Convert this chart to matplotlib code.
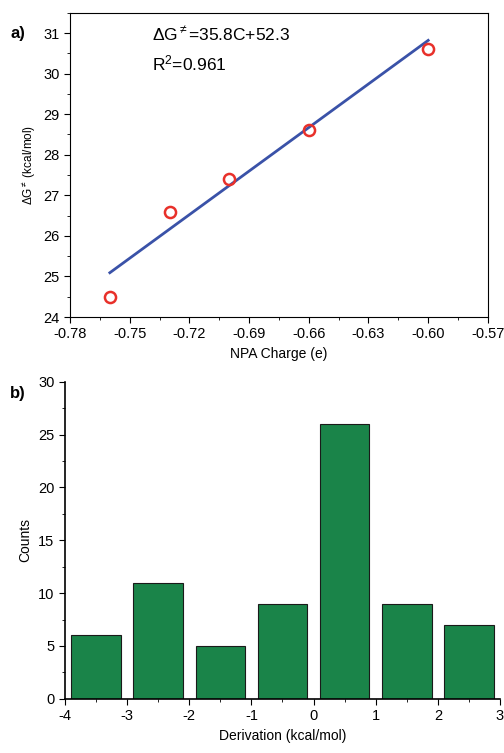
import matplotlib
matplotlib.use('Agg')
import matplotlib.pyplot as plt
from matplotlib.ticker import MultipleLocator, AutoMinorLocator

plt.rcParams['font.family'] = ['Liberation Sans', 'DejaVu Sans']
plt.rcParams['mathtext.fontset'] = 'custom'
plt.rcParams['mathtext.rm'] = 'Liberation Sans'
plt.rcParams['mathtext.it'] = 'Liberation Sans'
plt.rcParams['axes.unicode_minus'] = False

# panel a data
charge = [-0.76, -0.73, -0.70, -0.66, -0.60]
dg = [24.5, 26.6, 27.4, 28.6, 30.6]
slope = 35.8
intercept = 52.3
fit_x = [-0.76, -0.60]

# panel b data
bin_centers = [-3.5, -2.5, -1.5, -0.5, 0.5, 1.5, 2.5]
counts = [6, 11, 5, 9, 26, 9, 7]

fig = plt.figure(figsize=(5.04, 7.53), dpi=100)

ax1 = fig.add_axes([0.139, 0.579, 0.829, 0.404])
fit_y = [slope * x + intercept for x in fit_x]
ax1.plot(fit_x, fit_y, color='#3a52a8', lw=2)
ax1.plot(charge, dg, 'o', mfc='none', mec='#e8302a', mew=1.8, ms=8)
ax1.set_xlim(-0.78, -0.57)
ax1.set_ylim(24, 31.5)
ax1.xaxis.set_major_locator(MultipleLocator(0.03))
ax1.xaxis.set_minor_locator(AutoMinorLocator(2))
ax1.yaxis.set_major_locator(MultipleLocator(1))
ax1.yaxis.set_minor_locator(AutoMinorLocator(2))
ax1.set_xticklabels([f'{t:.2f}' for t in ax1.get_xticks()])
ax1.tick_params(which='both', direction='out', labelsize=10.5)
ax1.tick_params(which='major', length=4)
ax1.tick_params(which='minor', length=2)
ax1.set_xlabel('NPA Charge (e)', fontsize=10)
ax1.set_ylabel(r'$\Delta$G$^{\neq}$ (kcal/mol)', fontsize=8.5)
ax1.text(0.195, 0.96, r'$\Delta$G$^{\neq}$=35.8C+52.3', transform=ax1.transAxes,
         fontsize=12.5, va='top')
ax1.text(0.195, 0.865, r'R$^2$=0.961', transform=ax1.transAxes,
         fontsize=12.5, va='top')
fig.text(0.02, 0.95, 'a)', fontsize=12, fontweight='bold')

ax2 = fig.add_axes([0.129, 0.072, 0.863, 0.421])
ax2.bar(bin_centers, counts, width=0.8, color='#1a8449', edgecolor='#1a1a1a', lw=0.8)
ax2.set_xlim(-4, 3)
ax2.set_ylim(0, 30)
ax2.spines['top'].set_visible(False)
ax2.spines['right'].set_visible(False)
ax2.spines['left'].set_linewidth(1.2)
ax2.spines['bottom'].set_linewidth(1.2)
ax2.xaxis.set_major_locator(MultipleLocator(1))
ax2.xaxis.set_minor_locator(AutoMinorLocator(2))
ax2.yaxis.set_major_locator(MultipleLocator(5))
ax2.yaxis.set_minor_locator(AutoMinorLocator(2))
ax2.tick_params(which='both', direction='out', labelsize=10.5)
ax2.tick_params(which='major', length=4)
ax2.tick_params(which='minor', length=2)
ax2.set_xlabel('Derivation (kcal/mol)', fontsize=10)
ax2.set_ylabel('Counts', fontsize=10)
fig.text(0.02, 0.472, 'b)', fontsize=12, fontweight='bold')

fig.savefig('out.png', dpi=100)
